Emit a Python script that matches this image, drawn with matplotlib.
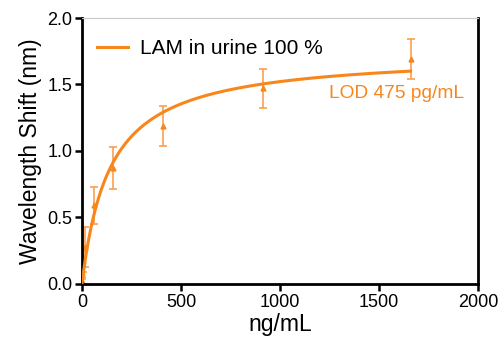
import numpy as np
import matplotlib
matplotlib.use('Agg')
import matplotlib.pyplot as plt

plt.rcParams['font.family'] = ['Liberation Sans', 'DejaVu Sans']

conc = [0, 2, 6, 16, 60, 157, 409, 912, 1660]
shift = [0.02, 0.09, 0.17, 0.28, 0.59, 0.87, 1.19, 1.47, 1.69]
err = [0.03, 0.05, 0.08, 0.15, 0.14, 0.16, 0.15, 0.15, 0.15]

# one-site binding fit parameters
bmax = 1.737
kd = 141.5

orange = '#F7861C'

fig = plt.figure(figsize=(5.03, 3.47), dpi=100)
ax = fig.add_axes([0.163, 0.182, 0.787, 0.766])

xf = np.linspace(0, max(conc), 400)
yf = bmax * xf / (kd + xf)
ax.plot(xf, yf, color=orange, lw=2.2, label='LAM in urine 100 %', zorder=3)
ax.errorbar(conc, shift, yerr=err, fmt='^', color=orange, ms=3.5,
            ecolor='#F9A050', elinewidth=1.2, capsize=3, capthick=1.2, zorder=2)

ax.set_xlim(0, 2000)
ax.set_ylim(0, 2.0)
ax.set_xticks([0, 500, 1000, 1500, 2000])
ax.set_yticks([0, 0.5, 1.0, 1.5, 2.0])
ax.set_yticklabels(['0.0', '0.5', '1.0', '1.5', '2.0'])
ax.tick_params(direction='out', length=5, width=1.8, labelsize=13, pad=2)

for s in ['left', 'bottom', 'right']:
    ax.spines[s].set_linewidth(2)
ax.spines['top'].set_linewidth(0.8)
ax.spines['top'].set_color('#c8c8c8')

ax.set_xlabel('ng/mL', fontsize=16.5, labelpad=2)
ax.set_ylabel('Wavelength Shift (nm)', fontsize=16.5, labelpad=4)

ax.text(0.625, 0.70, 'LOD 475 pg/mL', transform=ax.transAxes, color=orange, fontsize=13.8)

ax.legend(loc='upper left', frameon=False, fontsize=15, handlelength=1.5,
          handletextpad=0.6, borderaxespad=0.3, bbox_to_anchor=(0.0, 0.975))

fig.savefig('out.png', dpi=100)
